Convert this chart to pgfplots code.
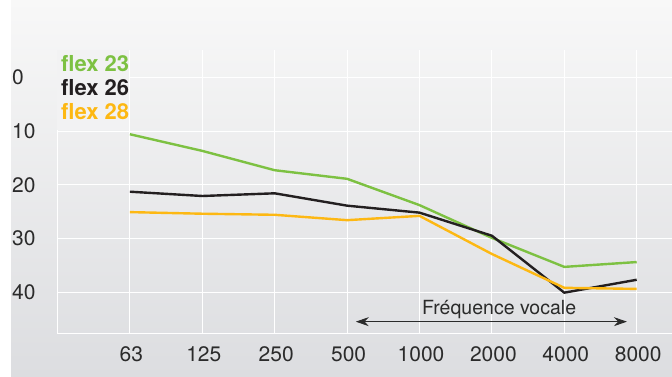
\documentclass[border=0pt]{standalone}
\usepackage{pgfplots}
\pgfplotsset{compat=1.18}
\usepackage{fontspec}
\setmainfont{TeX Gyre Heros}
\usetikzlibrary{arrows.meta}
\definecolor{cgreen}{HTML}{7DC142}
\definecolor{cblack}{HTML}{231F20}
\definecolor{cyellow}{HTML}{FDB813}
\definecolor{bgtop}{HTML}{F8F8F8}
\definecolor{bgbot}{HTML}{DCDDE0}
\definecolor{bgleg}{HTML}{F2F2F3}
\definecolor{txt}{HTML}{2B2B2B}
\begin{document}
\begin{tikzpicture}
\path[use as bounding box] (0pt,0pt) rectangle (672pt,376pt);
\shade[top color=bgtop, bottom color=bgbot] (11pt,0pt) rectangle (672pt,376pt);
\begin{axis}[
  x=72.4pt, y=5.37pt, y dir=reverse,
  xmin=-1, xmax=7.5, ymin=-5.08, ymax=47.7,
  at={(365.2pt,184.25pt)}, anchor=center,
  axis line style={draw=none},
  xtick={0,...,7}, xticklabels={63,125,250,500,1000,2000,4000,8000},
  ytick={0,10,20,30,40},
  major tick length=0pt,
  grid=major, grid style={white, line width=1pt},
  /pgf/number format/assume math mode=true,
  ticklabel style={font=\fontsize{21}{24}\selectfont, text=txt, inner sep=0pt},
  xticklabel style={yshift=-12.7pt, xshift=1.5pt},
  yticklabel style={anchor=west, xshift=-45.5pt},
  clip=false,
  legend style={at={(axis cs:-0.953,-4.1)}, anchor=north west, fill=none, draw=none,
    inner sep=0pt, font=\fontsize{22}{24}\selectfont\bfseries,
    nodes={inner sep=0pt, text height=16.3pt, text depth=7.4pt},
    row sep=0pt, column sep=0pt},
  legend cell align=left,
  legend image code/.code={},
]
\draw[white, line width=1pt] (axis cs:-1,-5.08) -- (axis cs:-1,47.7) -- (axis cs:7.5,47.7);
\fill[bgleg] (axis cs:-1.01,-5.08) rectangle (axis cs:-0.007,9.87);
\addplot[cgreen, line width=2.4pt] coordinates {(0,10.6)(1,13.7)(2,17.3)(3,18.9)(4,23.8)(5,29.9)(6,35.3)(7,34.4)};
\addlegendentry{\textcolor{cgreen}{flex 23}}
\addplot[cblack, line width=2.4pt] coordinates {(0,21.3)(1,22.1)(2,21.6)(3,23.9)(4,25.2)(5,29.5)(6,40.1)(7,37.7)};
\addlegendentry{\textcolor{cblack}{flex 26}}
\addplot[cyellow, line width=2.4pt] coordinates {(0,25.1)(1,25.4)(2,25.6)(3,26.6)(4,25.8)(5,32.9)(6,39.2)(7,39.4)};
\addlegendentry{\textcolor{cyellow}{flex 28}}
\draw[txt, line width=1pt, {Stealth[length=13pt,width=9pt]}-{Stealth[length=13pt,width=9pt]}] (axis cs:3.12,45.5) -- (axis cs:6.865,45.5);
\node[anchor=base, text=txt, font=\fontsize{19.5}{22}\selectfont, inner sep=0pt] at (axis cs:5.10,44.2) {Fréquence vocale};
\end{axis}
\end{tikzpicture}
\end{document}
